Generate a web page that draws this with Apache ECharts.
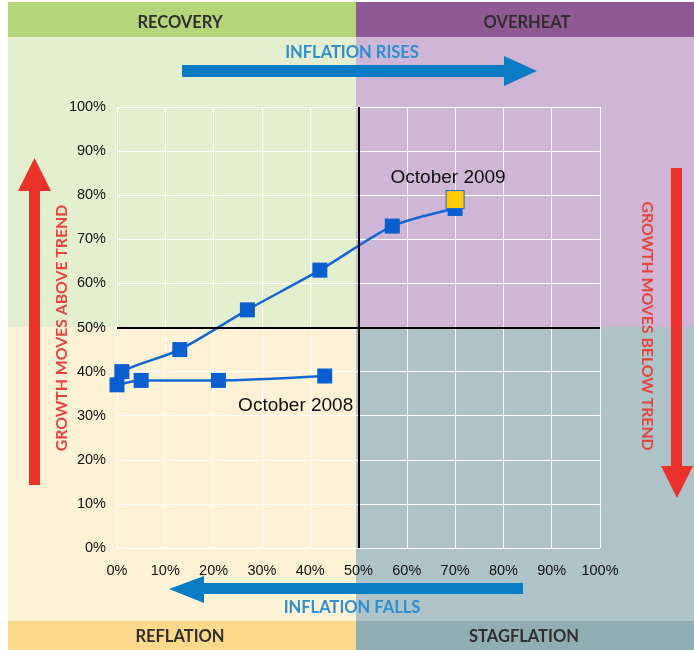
<!DOCTYPE html>
<html><head><meta charset="utf-8">
<script src="https://cdn.jsdelivr.net/npm/echarts@6/dist/echarts.min.js"></script>
<style>html,body{margin:0;padding:0;background:#fff}#c{width:694px;height:650px}</style>
</head><body><div id="c"></div>
<script>
// Data (inflation %, growth %)
const inflation = [43, 21, 5, 0, 1, 13, 27, 42, 57, 70];
const growth    = [39, 38, 38, 37, 40, 45, 54, 63, 73, 77];
const pointNames = ['October 2008','','','','','','','','',''];
const latestPoint = [70, 79];
const latestName = 'October 2009';
const quadrantNames = ['RECOVERY', 'OVERHEAT', 'REFLATION', 'STAGFLATION'];
const arrowTexts = ['INFLATION RISES', 'INFLATION FALLS', 'GROWTH MOVES ABOVE TREND', 'GROWTH MOVES BELOW TREND'];
const tickStep = 10;

const chart = echarts.init(document.getElementById('c'));
const seriesData = inflation.map((x, i) => ({ value: [x, growth[i]], name: pointNames[i] }));

const bandFont = { fontFamily: 'Lato', fontSize: 16.5, fontWeight: 'bold', fill: '#2f2f2f' };
const arrowFont = { fontFamily: 'Lato', fontSize: 16.5, fontWeight: 'bold', fill: '#2e8fcf' };
const redFont = { fontFamily: 'Lato', fontSize: 15.8, fontWeight: 'bold', fill: '#e4463f' };

chart.setOption({
  animation: false,
  grid: { left: 117, right: 94, top: 107, bottom: 102 },
  xAxis: {
    type: 'value', min: 0, max: 100, interval: tickStep,
    axisLine: { show: false }, axisTick: { show: false },
    splitLine: { show: true, lineStyle: { color: '#ffffff', width: 1 } },
    axisLabel: { formatter: '{value}%', margin: 15, color: '#111', fontFamily: 'Liberation Sans', fontSize: 14.5 }
  },
  yAxis: {
    type: 'value', min: 0, max: 100, interval: tickStep,
    axisLine: { show: false }, axisTick: { show: false },
    splitLine: { show: true, lineStyle: { color: '#ffffff', width: 1 } },
    axisLabel: { formatter: '{value}%', margin: 11, color: '#111', fontFamily: 'Liberation Sans', fontSize: 14.5 }
  },
  graphic: [
    // quadrant backgrounds
    { type: 'rect', z: -10, shape: { x: 8, y: 37, width: 348, height: 290 }, style: { fill: '#e3efcf' } },
    { type: 'rect', z: -10, shape: { x: 356, y: 37, width: 338, height: 290 }, style: { fill: '#cfb6d6' } },
    { type: 'rect', z: -10, shape: { x: 8, y: 327, width: 348, height: 294 }, style: { fill: '#fef2d6' } },
    { type: 'rect', z: -10, shape: { x: 356, y: 327, width: 338, height: 294 }, style: { fill: '#aec3c8' } },
    // bands
    { type: 'rect', z: -9, shape: { x: 8, y: 2, width: 348, height: 35 }, style: { fill: '#b5d57b' } },
    { type: 'rect', z: -9, shape: { x: 356, y: 2, width: 338, height: 35 }, style: { fill: '#8f5a93' } },
    { type: 'rect', z: -9, shape: { x: 8, y: 621, width: 348, height: 29 }, style: { fill: '#fcd98b' } },
    { type: 'rect', z: -9, shape: { x: 356, y: 621, width: 338, height: 29 }, style: { fill: '#8fadb2' } },
    { type: 'text', z: -8, x: 180, y: 23, style: Object.assign({ text: quadrantNames[0], align: 'center', verticalAlign: 'middle' }, bandFont) },
    { type: 'text', z: -8, x: 527, y: 23, style: Object.assign({ text: quadrantNames[1], align: 'center', verticalAlign: 'middle' }, bandFont) },
    { type: 'text', z: -8, x: 180, y: 637, style: Object.assign({ text: quadrantNames[2], align: 'center', verticalAlign: 'middle' }, bandFont) },
    { type: 'text', z: -8, x: 524, y: 637, style: Object.assign({ text: quadrantNames[3], align: 'center', verticalAlign: 'middle' }, bandFont) },
    // blue arrows
    { type: 'polygon', z: -8, shape: { points: [[182,65],[504,65],[504,56],[537,71],[504,86],[504,77],[182,77]] }, style: { fill: '#0a7cc4' } },
    { type: 'text', z: -8, x: 352, y: 53, style: Object.assign({ text: arrowTexts[0], align: 'center', verticalAlign: 'middle' }, arrowFont) },
    { type: 'polygon', z: -8, shape: { points: [[523,583],[204,583],[204,576],[169,589],[204,603],[204,594],[523,594]] }, style: { fill: '#0a7cc4' } },
    { type: 'text', z: -8, x: 352, y: 608, style: Object.assign({ text: arrowTexts[1], align: 'center', verticalAlign: 'middle' }, arrowFont) },
    // red arrows
    { type: 'polygon', z: -8, shape: { points: [[29,485],[29,191],[18,191],[34.5,158],[51,191],[40,191],[40,485]] }, style: { fill: '#e8322a' } },
    { type: 'text', z: -8, x: 62, y: 328, rotation: Math.PI / 2, style: Object.assign({ text: arrowTexts[2], align: 'center', verticalAlign: 'middle' }, redFont) },
    { type: 'polygon', z: -8, shape: { points: [[671,168],[671,466],[661,466],[677,498],[693,466],[682,466],[682,168]] }, style: { fill: '#e8322a' } },
    { type: 'text', z: -8, x: 647, y: 326, rotation: -Math.PI / 2, style: Object.assign({ text: arrowTexts[3], align: 'center', verticalAlign: 'middle' }, redFont) }
  ],
  series: [
    {
      type: 'line', data: seriesData, smooth: 0.25,
      symbol: 'rect', symbolSize: 15,
      lineStyle: { color: '#1466d4', width: 2.5 },
      itemStyle: { color: '#0a5fd0' },
      label: {
        show: true, position: 'bottom', offset: [-29, 8],
        formatter: p => p.name, color: '#111', fontFamily: 'Liberation Sans', fontSize: 19
      },
      markLine: {
        silent: true, symbol: 'none', label: { show: false },
        lineStyle: { color: '#000', width: 2, type: 'solid' },
        data: [{ xAxis: 50 }, { yAxis: 50 }]
      },
      z: 3
    },
    {
      type: 'scatter', data: [{ value: latestPoint, name: latestName }],
      symbol: 'rect', symbolSize: 18,
      itemStyle: { color: '#ffcc00', opacity: 1, borderColor: '#1466d4', borderWidth: 1 },
      label: {
        show: true, position: 'top', offset: [-7, 2],
        formatter: p => p.name, color: '#111', fontFamily: 'Liberation Sans', fontSize: 19
      },
      z: 4
    }
  ]
});
</script></body></html>
